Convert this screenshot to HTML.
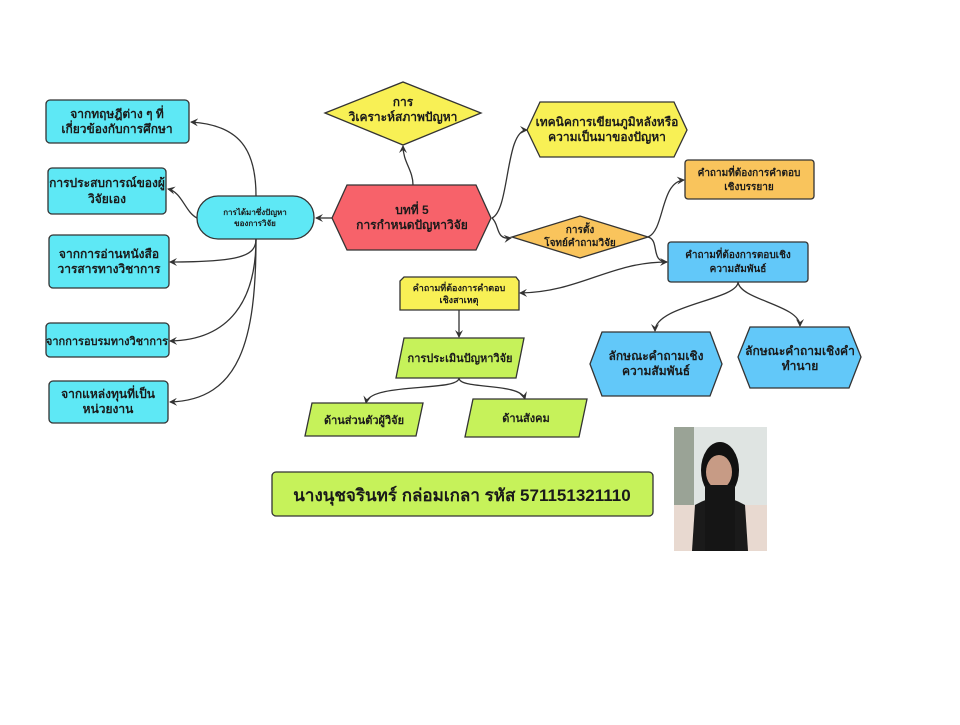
<!DOCTYPE html>
<html><head><meta charset="utf-8"><style>
body{margin:0;background:#fff;width:960px;height:720px;overflow:hidden}
svg text{font-family:"Liberation Sans","DejaVu Sans",sans-serif;font-weight:bold;fill:#1a1a1a;text-anchor:middle}
</style></head><body>
<svg width="960" height="720" viewBox="0 0 960 720" xmlns="http://www.w3.org/2000/svg">
<defs><marker id="a" markerWidth="8" markerHeight="8" refX="7" refY="4" orient="auto" markerUnits="userSpaceOnUse"><path d="M0,0 L8,4 L0,8 L3,4 z" fill="#333"/></marker></defs>
<g fill="none" stroke="#333" stroke-width="1.3" marker-end="url(#a)">
<path d="M256,196 C256,150 240,125 191,122"/>
<path d="M197,218 C185,212 182,192 168,189"/>
<path d="M256,239 C256,256 240,262 170,262"/>
<path d="M256,239 C256,300 230,340 170,341"/>
<path d="M256,239 C256,340 240,400 170,402"/>
<path d="M332,218 L316,218"/>
<path d="M413,185 C413,170 403,162 403,146"/>
<path d="M492,218 C510,210 505,130 527,130"/>
<path d="M492,218 C500,225 495,240 511,238"/>
<path d="M648,237 C665,230 660,182 684,180"/>
<path d="M648,237 C660,240 650,262 667,262"/>
<path d="M667,262 C610,262 580,292 520,293"/>
<path d="M459,310 L459,337"/>
<path d="M459,378 C459,392 370,382 366,403"/>
<path d="M459,378 C459,390 520,382 525,399"/>
<path d="M738,282 C738,300 655,305 655,331"/>
<path d="M738,282 C740,300 800,305 800,326"/>
</g>
<g stroke="#333" stroke-width="1.3">
<rect x="46" y="100" width="143" height="43" rx="4" fill="#5ee8f5"/>
<rect x="48" y="168" width="118" height="46" rx="4" fill="#5ee8f5"/>
<rect x="49" y="235" width="120" height="53" rx="4" fill="#5ee8f5"/>
<rect x="46" y="323" width="123" height="34" rx="4" fill="#5ee8f5"/>
<rect x="49" y="381" width="119" height="42" rx="4" fill="#5ee8f5"/>
<rect x="197" y="196" width="117" height="43" rx="21" fill="#5ee8f5"/>
<polygon points="332,218 347,185 476,185 491,218 476,250 347,250" fill="#f7626a"/>
<polygon points="325,113 403,82 481,113 403,145" fill="#f8f055"/>
<polygon points="527,130 540,102 674,102 687,130 674,157 540,157" fill="#f8f055"/>
<rect x="685" y="160" width="129" height="39" rx="3" fill="#f9c45c"/>
<polygon points="512,237 580,216 648,237 580,258" fill="#f9c45c"/>
<rect x="668" y="242" width="140" height="40" rx="3" fill="#62c8f9"/>
<polygon points="404,277 516,277 519,281 519,310 400,310 400,281" fill="#f8f055"/>
<polygon points="404,338 524,338 516,378 396,378" fill="#c6f25a"/>
<polygon points="312,403 423,403 416,436 305,436" fill="#c6f25a"/>
<polygon points="473,399 587,399 579,437 465,437" fill="#c6f25a"/>
<polygon points="590,364 602,332 710,332 722,364 710,396 602,396" fill="#62c8f9"/>
<polygon points="738,357 750,327 849,327 861,357 849,388 750,388" fill="#62c8f9"/>
<rect x="272" y="472" width="381" height="44" rx="4" fill="#c6f25a"/>
</g>
<g font-size="12">
<text x="117" y="118">จากทฤษฎีต่าง ๆ ที่</text><text x="117" y="133">เกี่ยวข้องกับการศึกษา</text>
<text x="107" y="187">การประสบการณ์ของผู้</text><text x="107" y="203">วิจัยเอง</text>
<text x="109" y="258">จากการอ่านหนังสือ</text><text x="109" y="273">วารสารทางวิชาการ</text>
<text x="107" y="345" font-size="11">จากการอบรมทางวิชาการ</text>
<text x="108" y="398">จากแหล่งทุนที่เป็น</text><text x="108" y="413">หน่วยงาน</text>
<text x="255" y="215" font-size="8">การได้มาซึ่งปัญหา</text><text x="255" y="226" font-size="8">ของการวิจัย</text>
<text x="412" y="214">บทที่ 5</text><text x="412" y="229">การกำหนดปัญหาวิจัย</text>
<text x="403" y="106">การ</text><text x="403" y="121">วิเคราะห์สภาพปัญหา</text>
<text x="607" y="126">เทคนิคการเขียนภูมิหลังหรือ</text><text x="607" y="141">ความเป็นมาของปัญหา</text>
<text x="749" y="176" font-size="10">คำถามที่ต้องการคำตอบ</text><text x="749" y="190" font-size="10">เชิงบรรยาย</text>
<text x="580" y="233" font-size="10">การตั้ง</text><text x="580" y="246" font-size="10">โจทย์คำถามวิจัย</text>
<text x="738" y="258" font-size="10">คำถามที่ต้องการตอบเชิง</text><text x="738" y="272" font-size="10">ความสัมพันธ์</text>
<text x="459" y="291" font-size="9">คำถามที่ต้องการคำตอบ</text><text x="459" y="303" font-size="9">เชิงสาเหตุ</text>
<text x="460" y="362" font-size="11">การประเมินปัญหาวิจัย</text>
<text x="364" y="424" font-size="11">ด้านส่วนตัวผู้วิจัย</text>
<text x="526" y="422" font-size="11">ด้านสังคม</text>
<text x="656" y="360">ลักษณะคำถามเชิง</text><text x="656" y="375">ความสัมพันธ์</text>
<text x="800" y="355">ลักษณะคำถามเชิงคำ</text><text x="800" y="370">ทำนาย</text>
<text x="462" y="501" font-size="17">นางนุชจรินทร์ กล่อมเกลา รหัส 571151321110</text>
</g>
<rect x="674" y="427" width="93" height="124" fill="#dfe4e2"/>
<rect x="674" y="427" width="20" height="124" fill="#9aa396"/>
<rect x="674" y="505" width="93" height="46" fill="#e8d9d0"/>
<ellipse cx="720" cy="470" rx="19" ry="28" fill="#111"/>
<ellipse cx="719" cy="472" rx="13" ry="17" fill="#c79b85"/>
<path d="M692,551 L695,505 Q720,490 745,505 L748,551 Z" fill="#1a1a1a"/>
<rect x="705" y="485" width="30" height="66" fill="#151515"/>
</svg>
</body></html>
